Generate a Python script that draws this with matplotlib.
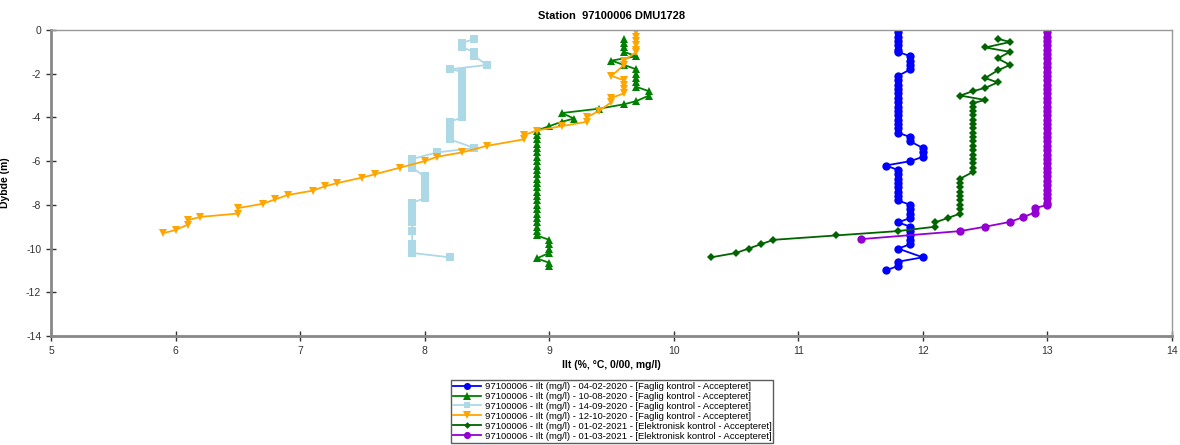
import matplotlib
matplotlib.use('Agg')
import matplotlib.pyplot as plt

plt.rcParams['font.family'] = ['Liberation Sans', 'DejaVu Sans']
plt.rcParams['axes.unicode_minus'] = False

# 04-02-2020 (blue)
d_blue = [0.1, 0.3, 0.5, 0.7, 0.9, 1.0, 1.2, 1.4, 1.6, 1.8,
          2.1, 2.3, 2.5, 2.7, 2.9, 3.1, 3.3, 3.5, 3.7, 3.9, 4.1, 4.3, 4.5, 4.7,
          4.9, 5.1, 5.4, 5.6, 5.8, 6.0, 6.2,
          6.4, 6.6, 6.8, 7.0, 7.2, 7.4, 7.6, 7.8,
          8.0, 8.2, 8.4, 8.6, 8.8, 9.0, 9.2, 9.4, 9.6, 9.8,
          10.0, 10.4, 10.6, 10.8, 11.0]
v_blue = [11.8, 11.8, 11.8, 11.8, 11.8, 11.8, 11.9, 11.9, 11.9, 11.9,
          11.8, 11.8, 11.8, 11.8, 11.8, 11.8, 11.8, 11.8, 11.8, 11.8, 11.8, 11.8, 11.8, 11.8,
          11.9, 11.9, 12.0, 12.0, 12.0, 11.9, 11.7,
          11.8, 11.8, 11.8, 11.8, 11.8, 11.8, 11.8, 11.8,
          11.9, 11.9, 11.9, 11.9, 11.8, 11.9, 11.9, 11.9, 11.9, 11.9,
          11.8, 12.0, 11.8, 11.8, 11.7]

# 10-08-2020 (green)
d_green = [0.4, 0.6, 0.8, 1.0, 1.2, 1.4, 1.6, 1.8, 2.0, 2.2, 2.4, 2.6, 2.8, 3.0,
           3.25, 3.4, 3.6, 3.8, 4.05, 4.2, 4.4, 4.6,
           4.8, 5.0, 5.2, 5.4, 5.6, 5.8, 6.0, 6.2, 6.4, 6.6, 6.8, 7.0,
           7.2, 7.4, 7.6, 7.8, 8.0, 8.2, 8.4, 8.6, 8.8, 9.0, 9.2, 9.4,
           9.6, 9.8, 10.0, 10.2, 10.45, 10.65, 10.8]
v_green = [9.6, 9.6, 9.6, 9.6, 9.7, 9.5, 9.6, 9.7, 9.7, 9.7, 9.7, 9.7, 9.8, 9.8,
           9.7, 9.6, 9.4, 9.1, 9.2, 9.1, 9.0, 8.9,
           8.9, 8.9, 8.9, 8.9, 8.9, 8.9, 8.9, 8.9, 8.9, 8.9, 8.9, 8.9,
           8.9, 8.9, 8.9, 8.9, 8.9, 8.9, 8.9, 8.9, 8.9, 8.9, 8.9, 8.9,
           9.0, 9.0, 9.0, 9.0, 8.9, 9.0, 9.0]

# 14-09-2020 (light blue)
d_lblue = [0.4, 0.6, 0.8, 1.0, 1.2, 1.6, 1.8,
           1.9, 2.1, 2.3, 2.5, 2.7, 2.9, 3.1, 3.3, 3.5, 3.7, 3.9, 4.0,
           4.2, 4.4, 4.7, 4.9, 5.0, 5.4, 5.6, 5.9, 6.1, 6.3,
           6.7, 6.9, 7.1, 7.3, 7.5, 7.7,
           7.9, 8.1, 8.3, 8.5, 8.7, 8.8, 9.2, 9.8, 10.0, 10.2, 10.4]
v_lblue = [8.4, 8.3, 8.3, 8.4, 8.4, 8.5, 8.2,
           8.3, 8.3, 8.3, 8.3, 8.3, 8.3, 8.3, 8.3, 8.3, 8.3, 8.3, 8.3,
           8.2, 8.2, 8.2, 8.2, 8.2, 8.4, 8.1, 7.9, 7.9, 7.9,
           8.0, 8.0, 8.0, 8.0, 8.0, 8.0,
           7.9, 7.9, 7.9, 7.9, 7.9, 7.9, 7.9, 7.9, 7.9, 7.9, 8.2]

# 12-10-2020 (orange)
d_orange = [0.1, 0.3, 0.5, 0.7, 0.9, 1.0, 1.4, 1.6, 2.1, 2.3, 2.5, 2.7, 2.9,
            3.1, 3.3, 3.7, 4.0, 4.2, 4.4, 4.6, 4.8, 5.0, 5.3, 5.6, 5.8, 6.0,
            6.3, 6.6, 6.75, 7.0, 7.15, 7.35, 7.55, 7.75, 7.95, 8.15, 8.4,
            8.55, 8.7, 8.9, 9.15, 9.3]
v_orange = [9.7, 9.7, 9.7, 9.7, 9.7, 9.7, 9.6, 9.6, 9.5, 9.6, 9.6, 9.6, 9.6,
            9.5, 9.5, 9.4, 9.3, 9.3, 9.1, 8.9, 8.8, 8.8, 8.5, 8.3, 8.1, 8.0,
            7.8, 7.6, 7.5, 7.3, 7.2, 7.1, 6.9, 6.8, 6.7, 6.5, 6.5,
            6.2, 6.1, 6.1, 6.0, 5.9]

# 01-02-2021 (dark green)
d_dgreen = [0.4, 0.55, 0.8, 1.0, 1.3, 1.6, 1.85, 2.2, 2.4, 2.65, 2.8, 3.0, 3.2, 3.35,
            3.5, 3.7, 3.9, 4.1, 4.3, 4.5, 4.7, 4.9, 5.1, 5.3, 5.5, 5.7, 5.9, 6.1, 6.3, 6.5,
            6.8, 7.0, 7.2, 7.4, 7.6, 7.8, 8.0, 8.2, 8.4,
            8.6, 8.8, 9.0, 9.2, 9.4, 9.6, 9.8, 10.0, 10.2, 10.4]
v_dgreen = [12.6, 12.7, 12.5, 12.7, 12.6, 12.7, 12.6, 12.5, 12.6, 12.5, 12.4, 12.3, 12.5, 12.4,
            12.4, 12.4, 12.4, 12.4, 12.4, 12.4, 12.4, 12.4, 12.4, 12.4, 12.4, 12.4, 12.4, 12.4, 12.4, 12.4,
            12.3, 12.3, 12.3, 12.3, 12.3, 12.3, 12.3, 12.3, 12.3,
            12.2, 12.1, 12.1, 11.8, 11.3, 10.8, 10.7, 10.6, 10.5, 10.3]

# 01-03-2021 (purple)
d_purple = [0.1, 0.3, 0.5, 0.7, 0.9, 1.1, 1.3, 1.5, 1.7, 1.9, 2.1, 2.3, 2.5, 2.7,
            2.9, 3.1, 3.3, 3.5, 3.7, 3.9, 4.1, 4.3, 4.5, 4.7, 4.9, 5.1, 5.3, 5.5,
            5.7, 5.9, 6.1, 6.3, 6.5, 6.7, 6.9, 7.1, 7.3, 7.5, 7.7, 7.9, 8.0,
            8.15, 8.35, 8.57, 8.78, 9.0, 9.2, 9.57]
v_purple = [13.0] * 41 + [12.9, 12.9, 12.8, 12.7, 12.5, 12.3, 11.5]

labels = ['97100006 - Ilt (mg/l) - 04-02-2020 - [Faglig kontrol - Accepteret]',
          '97100006 - Ilt (mg/l) - 10-08-2020 - [Faglig kontrol - Accepteret]',
          '97100006 - Ilt (mg/l) - 14-09-2020 - [Faglig kontrol - Accepteret]',
          '97100006 - Ilt (mg/l) - 12-10-2020 - [Faglig kontrol - Accepteret]',
          '97100006 - Ilt (mg/l) - 01-02-2021 - [Elektronisk kontrol - Accepteret]',
          '97100006 - Ilt (mg/l) - 01-03-2021 - [Elektronisk kontrol - Accepteret]']

fig = plt.figure(figsize=(11.8, 4.45), dpi=100)
ax = fig.add_axes([51/1180, 1-336/445, (1172-51)/1180, (336-30)/445])

series = [
    (v_blue, d_blue, '#0000FF', 'o', 6),
    (v_green, d_green, '#008000', '^', 6),
    (v_lblue, d_lblue, '#ADD8E6', 's', 5.5),
    (v_orange, d_orange, '#FFA500', 'v', 6),
    (v_dgreen, d_dgreen, '#006400', 'D', 4),
    (v_purple, d_purple, '#9400D3', 'o', 6),
]
for (v, d, c, m, ms), lab in zip(series, labels):
    ax.plot(v, [-x for x in d], color=c, marker=m, markersize=ms, lw=1.3,
            markeredgewidth=0, label=lab)

ax.set_xlim(5, 14)
ax.set_ylim(-14, 0)
ax.set_xticks(range(5, 15))
ax.set_yticks(range(-14, 1, 2))
ax.tick_params(direction='inout', length=7, width=1, labelsize=7.5, colors='#333333')
for s in ['left', 'bottom']:
    ax.spines[s].set_color('#888888')
    ax.spines[s].set_linewidth(2)
for s in ['top', 'right']:
    ax.spines[s].set_color('#999999')
    ax.spines[s].set_linewidth(1)

ax.set_title('Station  97100006 DMU1728', fontsize=8, fontweight='bold', pad=8)
ax.set_xlabel('Ilt (%, °C, 0/00, mg/l)', fontsize=7.5, fontweight='bold', labelpad=3)
ax.set_ylabel('Dybde (m)', fontsize=7.5, fontweight='bold')
ax.yaxis.set_label_coords(-41/1121, 0.5)

leg = fig.legend(loc='upper center', bbox_to_anchor=(612/1180, 1-380/445), fontsize=6.8,
                 frameon=True, fancybox=False, edgecolor='#333333', labelspacing=0.1,
                 handlelength=3.0, borderpad=0.2, handletextpad=0.4, borderaxespad=0,
                 markerscale=0.85)
leg.get_frame().set_linewidth(1)

plt.savefig('out.png', dpi=100)
